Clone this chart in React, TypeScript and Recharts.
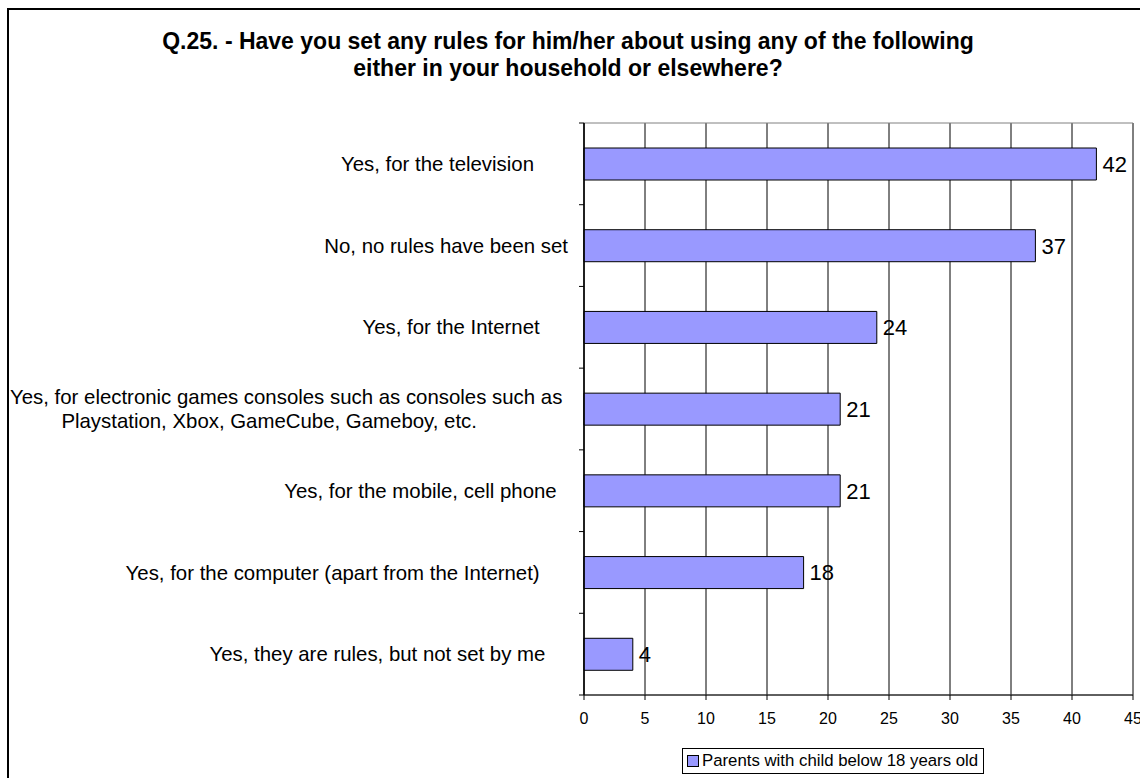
import React from 'react';
import {
  BarChart,
  Bar,
  XAxis,
  YAxis,
  CartesianGrid,
  Legend,
  LabelList,
  ReferenceArea,
} from 'recharts';

// answers, top to bottom (trailing spaces kept as in the source labels)
const categories = [
  'Yes, for the television      ',
  'No, no rules have been set',
  'Yes, for the Internet     ',
  'Yes, for electronic games consoles such as consoles such as \nPlaystation, Xbox, GameCube, Gameboy, etc.       ',
  'Yes, for the mobile, cell phone  ',
  'Yes, for the computer (apart from the Internet)     ',
  'Yes, they are rules, but not set by me    ',
];
const values = [42, 37, 24, 21, 21, 18, 4];
const xTicks = [0, 5, 10, 15, 20, 25, 30, 35, 40, 45];
const seriesName = 'Parents with child below 18 years old';
const titleLines = [
  'Q.25. - Have you set any rules for him/her about using any of the following',
  'either in your household or elsewhere?',
];

const data = categories.map((name, i) => ({ name, value: values[i] }));

const FONT = '"Liberation Sans", Arial, sans-serif';
const W = 1140;
const H = 778;
const PLOT_TOP = 123;
const PLOT_BOTTOM = 695;
const PLOT_RIGHT = 1133;
const PLOT_LEFT = 584;
const X_AXIS_H = 40;
const TICK_SIZE = 5;
const TICK_MARGIN = 11;
const LABEL_SIZE = 20.4;
const LINE_H = 24;
const BAND = (PLOT_BOTTOM - PLOT_TOP) / categories.length;
const BAR_FILL = '#9999ff';

let ctx: CanvasRenderingContext2D | null = null;
const measure = (s: string) => {
  if (!ctx) {
    ctx = document.createElement('canvas').getContext('2d');
  }
  if (!ctx) return s.length * LABEL_SIZE * 0.5;
  ctx.font = `${LABEL_SIZE}px "Liberation Sans", Arial, sans-serif`;
  return ctx.measureText(s).width;
};

const CategoryTick = (props: any) => {
  const { x, y, payload, index } = props;
  const lines = String(payload.value).split('\n');
  const block = Math.max(...lines.map(measure));
  const cx = x - block / 2;
  const axisX = x + TICK_MARGIN + TICK_SIZE;
  const top = y - BAND / 2;
  return (
    <g>
      <line x1={axisX - TICK_SIZE} x2={axisX} y1={top} y2={top} stroke='#000' />
      {index === categories.length - 1 && (
        <line
          x1={axisX - TICK_SIZE}
          x2={axisX}
          y1={y + BAND / 2}
          y2={y + BAND / 2}
          stroke='#000'
        />
      )}
      <text
        textAnchor='middle'
        fontSize={LABEL_SIZE}
        fontFamily={FONT}
        fill='#000'
        xmlSpace='preserve'
        style={{ whiteSpace: 'pre' }}
      >
        {lines.map((l, i) => (
          <tspan
            key={i}
            x={cx}
            y={y - ((lines.length - 1) / 2) * LINE_H + i * LINE_H}
            dy='0.35em'
          >
            {l}
          </tspan>
        ))}
      </text>
    </g>
  );
};

const LegendBox = () => (
  <div
    style={{
      display: 'inline-flex',
      alignItems: 'center',
      border: '1px solid #000',
      background: '#fff',
      height: 24,
      padding: '0 5px 0 4px',
      fontFamily: FONT,
      fontSize: 16.8,
      color: '#000',
      whiteSpace: 'nowrap',
    }}
  >
    <span
      style={{
        display: 'inline-block',
        width: 10,
        height: 10,
        background: BAR_FILL,
        border: '1px solid #000',
        marginRight: 3,
      }}
    />
    {seriesName}
  </div>
);

export default function App() {
  return (
    <div
      style={{
        position: 'absolute',
        left: 0,
        top: 0,
        width: W,
        height: H,
        overflow: 'hidden',
        background: '#fff',
      }}
    >
      <div
        style={{
          position: 'absolute',
          left: 7,
          top: 8,
          width: W + 20,
          height: H + 20,
          border: '2px solid #000',
          boxSizing: 'border-box',
        }}
      />
      <div
        style={{
          position: 'absolute',
          left: 0,
          top: 28,
          width: 1136,
          textAlign: 'center',
          fontFamily: FONT,
          fontWeight: 'bold',
          fontSize: 23,
          lineHeight: '27px',
          color: '#000',
        }}
      >
        {titleLines.map((t) => (
          <div key={t}>{t}</div>
        ))}
      </div>
      <div style={{ position: 'absolute', left: 0, top: 0 }}>
        <BarChart
          width={W}
          height={H}
          data={data}
          layout='vertical'
          margin={{
            top: PLOT_TOP,
            right: W - PLOT_RIGHT,
            left: 0,
            bottom: H - PLOT_BOTTOM - X_AXIS_H,
          }}
        >
          <ReferenceArea x1={0} x2={45} fill='none' stroke='#808080' />
          <CartesianGrid horizontal={false} stroke='#000' strokeWidth={1} />
          <XAxis
            type='number'
            domain={[0, 45]}
            ticks={xTicks}
            interval={0}
            height={X_AXIS_H}
            axisLine={{ stroke: '#000' }}
            tickLine={{ stroke: '#000' }}
            tickSize={TICK_SIZE}
            tickMargin={13}
            tick={{ fontSize: 16, fontFamily: FONT, fill: '#000' }}
          />
          <YAxis
            type='category'
            dataKey='name'
            width={PLOT_LEFT}
            interval={0}
            axisLine={{ stroke: '#000', strokeWidth: 1.5 }}
            tickLine={false}
            tickSize={TICK_SIZE}
            tickMargin={TICK_MARGIN}
            tick={<CategoryTick />}
          />
          <Legend
            layout='horizontal'
            verticalAlign='middle'
            align='center'
            content={<LegendBox />}
            wrapperStyle={{ left: 682, top: 748, width: 'auto' }}
          />
          <Bar
            dataKey='value'
            name={seriesName}
            fill={BAR_FILL}
            stroke='#000'
            strokeWidth={1}
            barSize={32}
            isAnimationActive={false}
          >
            <LabelList
              dataKey='value'
              position='right'
              offset={6}
              fill='#000'
              fontSize={22}
              fontFamily={FONT}
            />
          </Bar>
        </BarChart>
      </div>
    </div>
  );
}
